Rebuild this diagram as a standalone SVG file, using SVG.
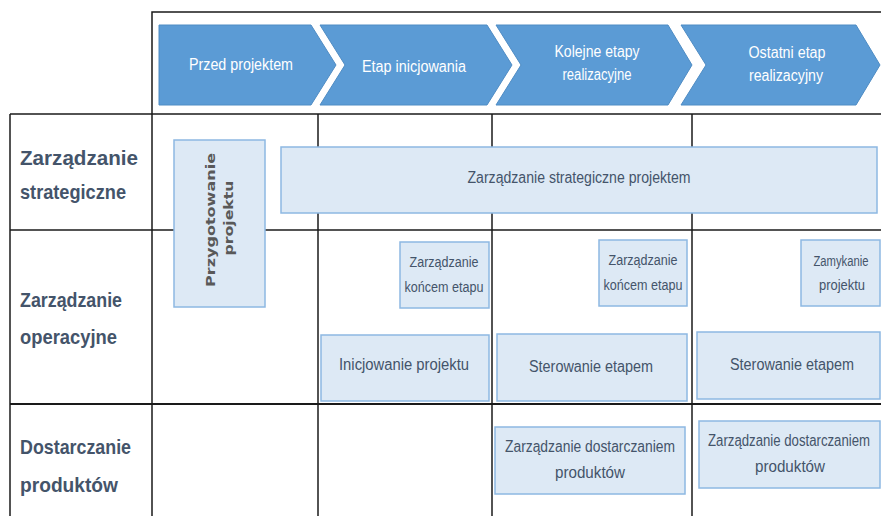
<svg xmlns="http://www.w3.org/2000/svg" width="881" height="516" viewBox="0 0 881 516">
<style>
.grid{stroke:#1a1a1a;stroke-width:1.5;fill:none}
.chev{fill:#5B9BD5;stroke:#4F8CC4;stroke-width:1}
.ct{fill:#fff;font-family:"Liberation Sans Narrow","Liberation Sans",sans-serif;font-size:16px;text-anchor:middle}
.row{fill:#44546A;font-family:"Liberation Sans",sans-serif;font-weight:bold;font-size:21px}
.box{fill:#DDE9F5;stroke:#8DB8E2;stroke-width:1.5}
.bt{fill:#44546A;font-family:"Liberation Sans Narrow","Liberation Sans",sans-serif;font-size:16px;text-anchor:middle}
.st{fill:#44546A;font-family:"Liberation Sans Narrow","Liberation Sans",sans-serif;font-size:14px;text-anchor:middle}
.vt{fill:#595959;font-family:"DejaVu Sans",sans-serif;font-weight:bold;font-size:13px;text-anchor:middle}
</style>
<rect width="881" height="516" fill="#fff"/>
<g id="grid" class="grid">
<polyline points="881,12 152,12 152,516"/>
<line x1="10" y1="114" x2="881" y2="114"/>
<line x1="10" y1="230" x2="881" y2="230"/>
<line x1="10" y1="404" x2="881" y2="404" stroke-width="2"/>
<line x1="10" y1="114" x2="10" y2="516"/>
<line x1="318" y1="114" x2="318" y2="516"/>
<line x1="492" y1="114" x2="492" y2="516"/>
<line x1="692" y1="114" x2="692" y2="516"/>
</g>
<g id="phase1"><polygon class="chev" points="159,25 311,25 336,65 311,105 159,105"/><text class="ct" x="241" y="70" textLength="104" lengthAdjust="spacingAndGlyphs">Przed projektem</text></g>
<g id="phase2"><polygon class="chev" points="320,25 487,25 512,65 487,105 320,105 345,65"/><text class="ct" x="414" y="72" textLength="104" lengthAdjust="spacingAndGlyphs">Etap inicjowania</text></g>
<g id="phase3"><polygon class="chev" points="496,25 668,25 692,65 668,105 496,105 521,65"/><text class="ct" x="597" y="57" textLength="85" lengthAdjust="spacingAndGlyphs">Kolejne etapy</text><text class="ct" x="597" y="80" textLength="69" lengthAdjust="spacingAndGlyphs">realizacyjne</text></g>
<g id="phase4"><polygon class="chev" points="681,25 856,25 880,65 856,105 681,105 706,65"/><text class="ct" x="787" y="58" textLength="77" lengthAdjust="spacingAndGlyphs">Ostatni etap</text><text class="ct" x="786" y="81" textLength="74" lengthAdjust="spacingAndGlyphs">realizacyjny</text></g>
<g id="row1"><text class="row" x="20" y="165" textLength="118" lengthAdjust="spacingAndGlyphs">Zarządzanie</text><text class="row" x="20" y="199" textLength="106" lengthAdjust="spacingAndGlyphs">strategiczne</text></g>
<g id="row2"><text class="row" x="20" y="307" textLength="102" lengthAdjust="spacingAndGlyphs">Zarządzanie</text><text class="row" x="20" y="344" textLength="97" lengthAdjust="spacingAndGlyphs">operacyjne</text></g>
<g id="row3"><text class="row" x="20" y="454" textLength="111" lengthAdjust="spacingAndGlyphs">Dostarczanie</text><text class="row" x="20" y="492" textLength="98" lengthAdjust="spacingAndGlyphs">produktów</text></g>
<g id="przygotowanie"><rect class="box" x="174" y="140" width="91" height="167"/><g transform="translate(215,220) rotate(-90)"><text class="vt" x="0" y="0" textLength="134" lengthAdjust="spacingAndGlyphs">Przygotowanie</text><text class="vt" x="2" y="18" textLength="75" lengthAdjust="spacingAndGlyphs">projektu</text></g></g>
<g id="strategiczne"><rect class="box" x="281" y="147" width="596" height="66"/><text class="bt" x="579" y="183" textLength="223" lengthAdjust="spacingAndGlyphs">Zarządzanie strategiczne projektem</text></g>
<g id="koniec1"><rect class="box" x="400" y="242" width="89" height="66"/><text class="st" x="444" y="267" textLength="69" lengthAdjust="spacingAndGlyphs">Zarządzanie</text><text class="st" x="444" y="292" textLength="79" lengthAdjust="spacingAndGlyphs">końcem etapu</text></g>
<g id="koniec2"><rect class="box" x="599" y="240" width="88" height="66"/><text class="st" x="643" y="265" textLength="69" lengthAdjust="spacingAndGlyphs">Zarządzanie</text><text class="st" x="643" y="290" textLength="79" lengthAdjust="spacingAndGlyphs">końcem etapu</text></g>
<g id="zamykanie"><rect class="box" x="801" y="240" width="79" height="66"/><text class="st" x="841" y="266" textLength="55" lengthAdjust="spacingAndGlyphs">Zamykanie</text><text class="st" x="842" y="290" textLength="46" lengthAdjust="spacingAndGlyphs">projektu</text></g>
<g id="inicjowanie"><rect class="box" x="321" y="335" width="168" height="66"/><text class="bt" x="404" y="370" textLength="130" lengthAdjust="spacingAndGlyphs">Inicjowanie projektu</text></g>
<g id="sterowanie1"><rect class="box" x="497" y="334" width="190" height="67"/><text class="bt" x="591" y="372" textLength="124" lengthAdjust="spacingAndGlyphs">Sterowanie etapem</text></g>
<g id="sterowanie2"><rect class="box" x="697" y="332" width="183" height="67"/><text class="bt" x="792" y="370" textLength="124" lengthAdjust="spacingAndGlyphs">Sterowanie etapem</text></g>
<g id="dostarczanie1"><rect class="box" x="495" y="427" width="190" height="67"/><text class="bt" x="590" y="452" textLength="170" lengthAdjust="spacingAndGlyphs">Zarządzanie dostarczaniem</text><text class="bt" x="590" y="478" textLength="70" lengthAdjust="spacingAndGlyphs">produktów</text></g>
<g id="dostarczanie2"><rect class="box" x="699" y="421" width="181" height="67"/><text class="bt" x="789" y="446" font-size="14.5" textLength="162" lengthAdjust="spacingAndGlyphs">Zarządzanie dostarczaniem</text><text class="bt" x="790" y="472" textLength="70" lengthAdjust="spacingAndGlyphs">produktów</text></g>
</svg>
